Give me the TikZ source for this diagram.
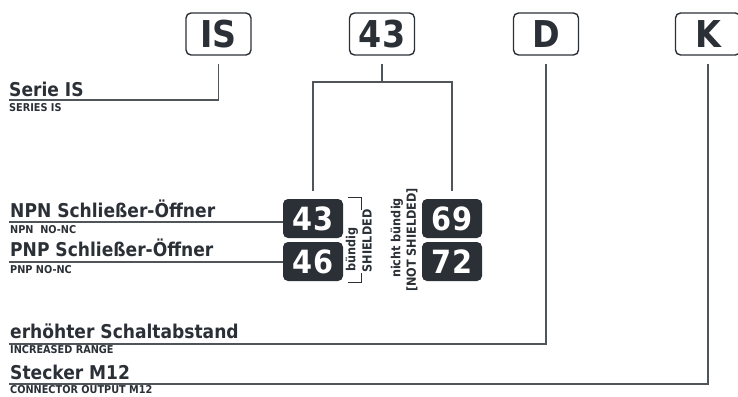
\documentclass[tikz,border=0pt]{standalone}
\usepackage{fontspec}
\setmainfont{DejaVu Sans Condensed}[BoldFont={DejaVu Sans Condensed Bold}]
\definecolor{ink}{HTML}{2B3036}
\definecolor{ln}{HTML}{50555A}
\begin{document}
\begin{tikzpicture}[x=1pt,y=-1pt]
\tikzset{
 topbox/.style={draw=ink, line width=1.4pt, rounded corners=5pt, minimum width=65pt, minimum height=42pt, inner sep=0pt, font=\bfseries\fontsize{37}{37}\selectfont, text=ink},
 numbox/.style={fill=ink, rounded corners=5pt, minimum width=60pt, minimum height=39pt, inner sep=0pt, font=\bfseries\fontsize{32}{32}\selectfont, text=white},
 big/.style={anchor=base west, inner sep=0pt, font=\bfseries\fontsize{19}{19}\selectfont, text=ink},
 small/.style={anchor=base west, inner sep=0pt, font=\bfseries\fontsize{10.8}{10.8}\selectfont, text=ink},
 conn/.style={draw=ln, line width=1.3pt},
 brk/.style={draw=ink, line width=1pt},
 rot/.style={rotate=90, inner sep=0pt, font=\bfseries\fontsize{12.5}{12.5}\selectfont, text=ink},
}
\useasboundingbox (0,0) rectangle (738,396);
% top boxes
\node[topbox] (tis) at (218.5,34) {IS};
\node[topbox] (t43) at (382,34) {43};
\node[topbox] (td) at (546,34) {D};
\node[topbox] (tk) at (708,34) {K};
% number boxes
\node[numbox] (b43) at (313,218.5) {43};
\node[numbox] (b46) at (313,261.5) {46};
\node[numbox] (b69) at (452,218.5) {69};
\node[numbox] (b72) at (452,261.5) {72};
% labels
\node[big] (l1) at (9,96) {Serie IS};
\node[small] (s1) at (9,111.5) {SERIES IS};
\node[big] (l2) at (10,217) {NPN Schließer-Öffner};
\node[small] (s2) at (10,233) {NPN~ NO-NC};
\node[big] (l3) at (10,256.5) {PNP Schließer-Öffner};
\node[small] (s3) at (10,273) {PNP NO-NC};
\node[big] (l4) at (10,338) {erhöhter Schaltabstand};
\node[small] (s4) at (10,353) {INCREASED RANGE};
\node[big] (l5) at (10,379) {Stecker M12};
\node[small] (s5) at (10,393.8) {CONNECTOR OUTPUT M12};
% rotated texts
\node[rot] (bd) at (352,249.5) {bündig};
\node[rot] (sh) at (367,241) {SHIELDED};
\node[rot] (nb) at (397,238) {nicht bündig};
\node[rot] (ns) at (412,240) {[NOT SHIELDED]};
% line ends
\coordinate (e1) at (9,100);
\coordinate (e2) at (9,222);
\coordinate (e3) at (9,262);
\coordinate (e4) at (9,344);
\coordinate (e5) at (9,384);
\coordinate (fork) at (382,82);
% connectors
\draw[conn] ([yshift=-8pt]tis.south) |- (e1);
\draw[conn] ([yshift=-8pt]t43.south) -- (fork);
\draw[conn] ([yshift=8pt]b43.north) |- (fork) -| ([yshift=8pt]b69.north);
\draw[conn] ([yshift=-8pt]td.south) |- (e4);
\draw[conn] ([yshift=-8pt]tk.south) |- (e5);
\draw[conn] (e2) -- (e2 -| b43.west);
\draw[conn] (e3) -- (e3 -| b46.west);
% bracket
\draw[brk] (348,197) -- (361,197) -- (361,210);
\draw[brk] (361,273) -- (361,282) -- (348,282);
\end{tikzpicture}
\end{document}
